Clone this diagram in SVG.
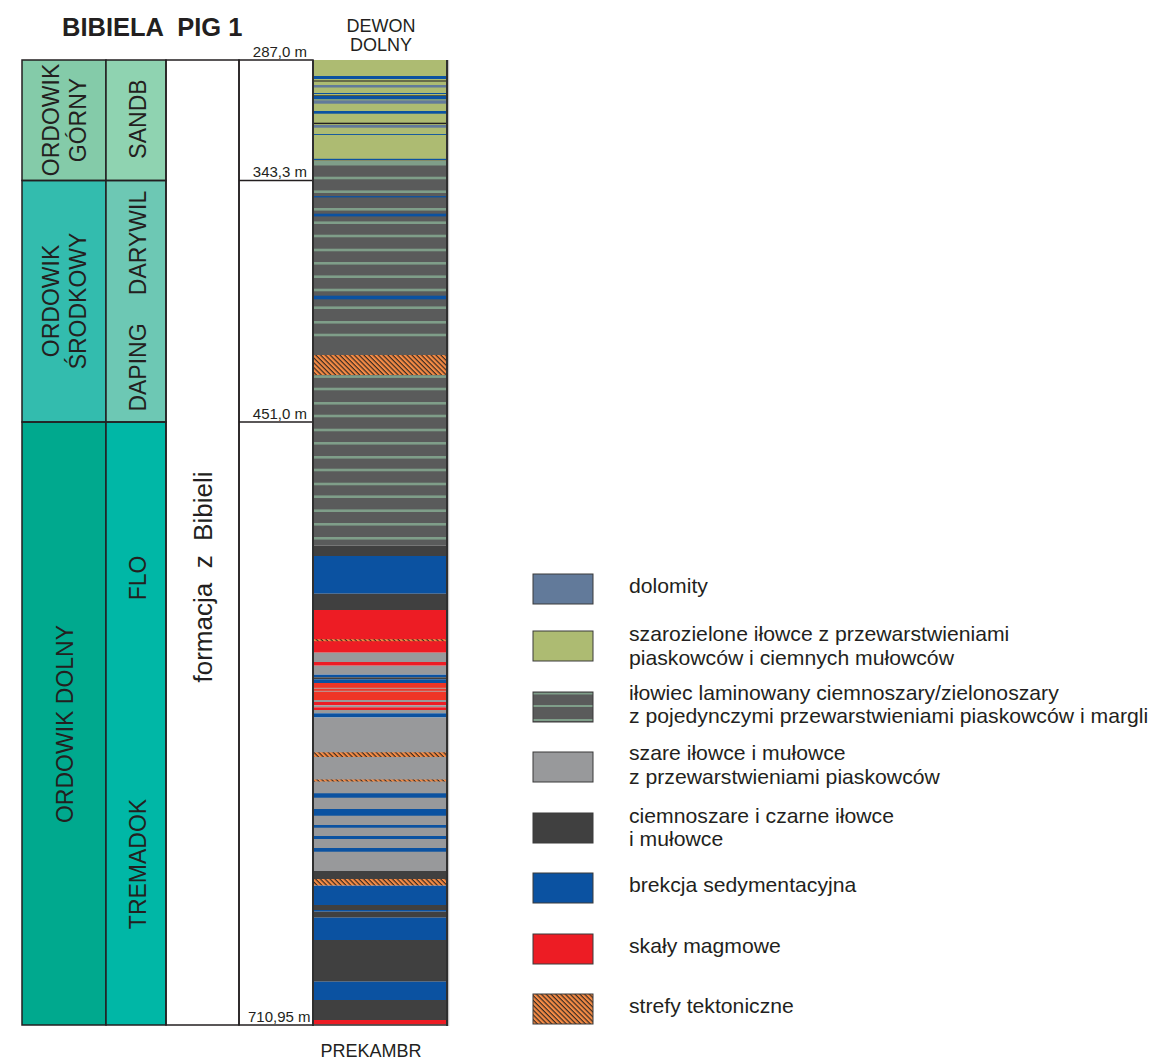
<svg xmlns="http://www.w3.org/2000/svg" width="1149" height="1060" viewBox="0 0 1149 1060">
<style>
text{font-family:"Liberation Sans",Arial,sans-serif;fill:#231f20}
.ttl{font-size:25.5px;font-weight:bold}
.hd{font-size:18px;text-anchor:middle}
.dep{font-size:15px;text-anchor:end}
.rl{font-size:23px;text-anchor:middle}
.lg{font-size:20px}
.bd{fill:none;stroke:#231f20;stroke-width:1.5}
.g{fill:#adbb72}.b{fill:#0b52a1}.dl{fill:#627a9a}.k{fill:#231f20}
.lam{fill:#5a5b5b}.s{fill:#7f9e89}.dk{fill:#404040}.gr{fill:#98999b}
.r{fill:#ed1c24}.ro{fill:#ef3526}.h{fill:url(#hatch)}.lt{fill:#b0b0b0}
.lbox{stroke:#3a3a3a;stroke-width:1}
</style>
<defs>
<pattern id="hatch" patternUnits="userSpaceOnUse" width="3.4" height="3.4" patternTransform="rotate(45)">
<rect width="3.4" height="3.4" fill="#f58b45"/>
<rect width="3.4" height="1.2" fill="#3b2b22"/>
</pattern>
</defs>
<rect width="1149" height="1060" fill="#ffffff"/>

<g id="header">
<text class="ttl" x="62" y="36" xml:space="preserve">BIBIELA  PIG 1</text>
<text class="hd" x="381" y="31.5">DEWON</text>
<text class="hd" x="381" y="51">DOLNY</text>
<text class="hd" x="371" y="1057">PREKAMBR</text>
</g>

<g id="col-system">
<rect x="22" y="60" width="84" height="120.5" fill="#84cba9"/>
<rect x="22" y="180.5" width="84" height="241.5" fill="#33bcae"/>
<rect x="22" y="422" width="84" height="603" fill="#00a98e"/>
<rect class="bd" x="22" y="60" width="84" height="120.5"/>
<rect class="bd" x="22" y="180.5" width="84" height="241.5"/>
<rect class="bd" x="22" y="422" width="84" height="603"/>
<text class="rl" transform="translate(59,120) rotate(-90)">ORDOWIK</text>
<text class="rl" transform="translate(86,120) rotate(-90)">GÓRNY</text>
<text class="rl" transform="translate(59,301) rotate(-90)">ORDOWIK</text>
<text class="rl" transform="translate(86,301) rotate(-90)">ŚRODKOWY</text>
<text class="rl" transform="translate(73,724) rotate(-90)">ORDOWIK DOLNY</text>
</g>

<g id="col-stage">
<rect x="106" y="60" width="60" height="120.5" fill="#8fd3b1"/>
<rect x="106" y="180.5" width="60" height="241.5" fill="#6dc8b4"/>
<rect x="106" y="422" width="60" height="603" fill="#00b7a6"/>
<rect class="bd" x="106" y="60" width="60" height="120.5"/>
<rect class="bd" x="106" y="180.5" width="60" height="241.5"/>
<rect class="bd" x="106" y="422" width="60" height="603"/>
<text class="rl" transform="translate(146,119) rotate(-90)">SANDB</text>
<text class="rl" transform="translate(146,243) rotate(-90)">DARYWIL</text>
<text class="rl" transform="translate(146,367.5) rotate(-90)">DAPING</text>
<text class="rl" transform="translate(146,578) rotate(-90)">FLO</text>
<text class="rl" transform="translate(146,864) rotate(-90)">TREMADOK</text>
</g>

<g id="col-formation">
<rect class="bd" x="166" y="60" width="73" height="965" fill="#ffffff"/>
<text class="rl" style="font-size:26px" transform="translate(212,577) rotate(-90)" xml:space="preserve">formacja  z  Bibieli</text>
</g>

<g id="col-depth">
<rect class="bd" x="239" y="60" width="74" height="965" fill="#ffffff"/>
<line x1="239" y1="180.5" x2="313" y2="180.5" stroke="#231f20" stroke-width="1.5"/>
<line x1="239" y1="422" x2="313" y2="422" stroke="#231f20" stroke-width="1.5"/>
<text class="dep" x="307" y="57">287,0 m</text>
<text class="dep" x="307" y="177">343,3 m</text>
<text class="dep" x="307" y="418.5">451,0 m</text>
<text class="dep" x="310.5" y="1022">710,95 m</text>
</g>

<g id="lithology-column">
<rect class="g" x="313" y="60" width="134" height="101"/>
<rect class="b" x="313" y="76" width="134" height="3"/>
<rect class="k" x="313" y="80.5" width="134" height="1"/>
<rect class="dl" x="313" y="85" width="134" height="2.5"/>
<rect class="b" x="313" y="93" width="134" height="1"/>
<rect class="k" x="313" y="95.4" width="134" height="0.7"/>
<rect class="b" x="313" y="96" width="134" height="3.3"/>
<rect class="dl" x="313" y="100.3" width="134" height="3.4"/>
<rect class="b" x="313" y="111" width="134" height="2.7"/>
<rect class="k" x="313" y="122.7" width="134" height="1.4"/>
<rect class="dl" x="313" y="125" width="134" height="2.7"/>
<rect class="b" x="313" y="134" width="134" height="0.9"/>
<rect class="b" x="313" y="158.8" width="134" height="1.2"/>
<rect class="lam" x="313" y="160.5" width="134" height="385"/>
<rect class="s" x="313" y="161" width="134" height="4.5"/>
<rect class="s" x="313" y="176.7" width="134" height="2.6"/>
<rect class="s" x="313" y="190.4" width="134" height="2.6"/>
<rect class="b" x="313" y="196.1" width="134" height="1.3"/>
<rect class="s" x="313" y="208" width="134" height="2.6"/>
<rect class="b" x="313" y="213.7" width="134" height="2.7"/>
<rect class="s" x="313" y="221.4" width="134" height="2.6"/>
<rect class="s" x="313" y="234.7" width="134" height="2.6"/>
<rect class="s" x="313" y="248.7" width="134" height="2.6"/>
<rect class="s" x="313" y="262" width="134" height="2.6"/>
<rect class="s" x="313" y="275.4" width="134" height="2.6"/>
<rect class="s" x="313" y="288.7" width="134" height="2.6"/>
<rect class="b" x="313" y="295.7" width="134" height="3.6"/>
<rect class="s" x="313" y="306.4" width="134" height="2.6"/>
<rect class="s" x="313" y="321" width="134" height="2.6"/>
<rect class="s" x="313" y="333.7" width="134" height="2.6"/>
<rect class="h" x="313" y="355" width="134" height="20"/>
<rect class="s" x="313" y="375.3" width="134" height="2.6"/>
<rect class="s" x="313" y="387.7" width="134" height="2.6"/>
<rect class="s" x="313" y="402" width="134" height="2.6"/>
<rect class="s" x="313" y="414.7" width="134" height="2.6"/>
<rect class="s" x="313" y="428.7" width="134" height="2.6"/>
<rect class="s" x="313" y="442" width="134" height="2.6"/>
<rect class="s" x="313" y="456" width="134" height="2.6"/>
<rect class="s" x="313" y="468.7" width="134" height="2.6"/>
<rect class="s" x="313" y="482.7" width="134" height="2.6"/>
<rect class="s" x="313" y="495.4" width="134" height="2.6"/>
<rect class="s" x="313" y="509.4" width="134" height="2.6"/>
<rect class="s" x="313" y="523" width="134" height="2.6"/>
<rect class="s" x="313" y="537" width="134" height="2.6"/>
<rect class="dk" x="313" y="545.5" width="134" height="10.7"/>
<rect class="b" x="313" y="556" width="134" height="37.7"/>
<rect class="dk" x="313" y="593.7" width="134" height="16.3"/>
<rect class="r" x="313" y="610" width="134" height="42.7"/>
<rect class="h" x="313" y="639.2" width="134" height="2"/>
<rect class="gr" x="313" y="652.7" width="134" height="9.3"/>
<rect class="r" x="313" y="662" width="134" height="3.7"/>
<rect class="gr" x="313" y="665.7" width="134" height="9"/>
<rect class="b" x="313" y="674.7" width="134" height="2.6"/>
<rect class="dk" x="313" y="677.3" width="134" height="2"/>
<rect class="b" x="313" y="679.3" width="134" height="3.7"/>
<rect class="ro" x="313" y="683" width="134" height="17"/>
<rect class="lt" x="313" y="687.8" width="134" height="0.9"/>
<rect class="lt" x="313" y="690.8" width="134" height="0.9"/>
<rect class="gr" x="313" y="700" width="134" height="2"/>
<rect class="r" x="313" y="702" width="134" height="3.3"/>
<rect class="gr" x="313" y="705.3" width="134" height="2"/>
<rect class="r" x="313" y="707.3" width="134" height="2.7"/>
<rect class="gr" x="313" y="710" width="134" height="3.3"/>
<rect class="b" x="313" y="713.3" width="134" height="4.2"/>
<rect class="gr" x="313" y="717.5" width="134" height="153.5"/>
<rect class="h" x="313" y="752.3" width="134" height="4.7"/>
<rect class="h" x="313" y="779.5" width="134" height="2"/>
<rect class="b" x="313" y="793.3" width="134" height="4.4"/>
<rect class="b" x="313" y="809" width="134" height="6.7"/>
<rect class="b" x="313" y="825" width="134" height="2.7"/>
<rect class="b" x="313" y="836" width="134" height="3"/>
<rect class="b" x="313" y="848" width="134" height="3.7"/>
<rect class="dk" x="313" y="871" width="134" height="8"/>
<rect class="h" x="313" y="879" width="134" height="6.7"/>
<rect class="b" x="313" y="885.7" width="134" height="19.3"/>
<rect class="dk" x="313" y="905" width="134" height="5"/>
<rect class="b" x="313" y="910" width="134" height="1.7"/>
<rect class="dk" x="313" y="911.7" width="134" height="6"/>
<rect class="b" x="313" y="917.7" width="134" height="22.3"/>
<rect class="dk" x="313" y="940" width="134" height="41.7"/>
<rect class="b" x="313" y="981.7" width="134" height="18.3"/>
<rect class="dk" x="313" y="1000" width="134" height="20"/>
<rect class="r" x="313" y="1020" width="134" height="4.5"/>
<line x1="448.6" y1="60" x2="448.6" y2="1026" stroke="#c4c4c4" stroke-width="1.2"/>
<line x1="313" y1="60" x2="313" y2="1026" stroke="#2f2f2f" stroke-width="2"/>
<line x1="447" y1="60" x2="447" y2="1026" stroke="#2f2f2f" stroke-width="2"/>
<line x1="312" y1="1025" x2="448" y2="1025" stroke="#2f2f2f" stroke-width="1.6"/>
</g>

<g id="legend">
<rect class="lbox" x="533" y="574" width="60" height="30" fill="#627a9a"/>
<rect class="lbox" x="533" y="631" width="60" height="30" fill="#adbb72"/>
<g id="legend-laminated">
<rect x="533" y="692" width="60" height="30" fill="#5a5b5b"/>
<rect x="533" y="692.5" width="60" height="2" fill="#7f9e89"/>
<rect x="533" y="705" width="60" height="2" fill="#7f9e89"/>
<rect x="533" y="719" width="60" height="2" fill="#7f9e89"/>
<rect class="lbox" x="533" y="692" width="60" height="30" fill="none"/>
</g>
<rect class="lbox" x="533" y="752" width="60" height="30" fill="#98999b"/>
<rect class="lbox" x="533" y="813" width="60" height="30" fill="#404040"/>
<rect class="lbox" x="533" y="873" width="60" height="30" fill="#0b52a1"/>
<rect class="lbox" x="533" y="934" width="60" height="30" fill="#ed1c24"/>
<rect class="lbox" x="533" y="994" width="60" height="30" fill="url(#hatch)"/>
<g transform="translate(629,0) scale(1.06,1)">
<text class="lg" x="0" y="593.5">dolomity</text>
<text class="lg" x="0" y="641.5">szarozielone iłowce z przewarstwieniami</text>
<text class="lg" x="0" y="665">piaskowców i ciemnych mułowców</text>
<text class="lg" x="0" y="700.5">iłowiec laminowany ciemnoszary/zielonoszary</text>
<text class="lg" x="0" y="723.5">z pojedynczymi przewarstwieniami piaskowców i margli</text>
<text class="lg" x="0" y="760.5">szare iłowce i mułowce</text>
<text class="lg" x="0" y="784">z przewarstwieniami piaskowców</text>
<text class="lg" x="0" y="823">ciemnoszare i czarne iłowce</text>
<text class="lg" x="0" y="846">i mułowce</text>
<text class="lg" x="0" y="892">brekcja sedymentacyjna</text>
<text class="lg" x="0" y="953.5">skały magmowe</text>
<text class="lg" x="0" y="1013">strefy tektoniczne</text>
</g>
</g>
</svg>
